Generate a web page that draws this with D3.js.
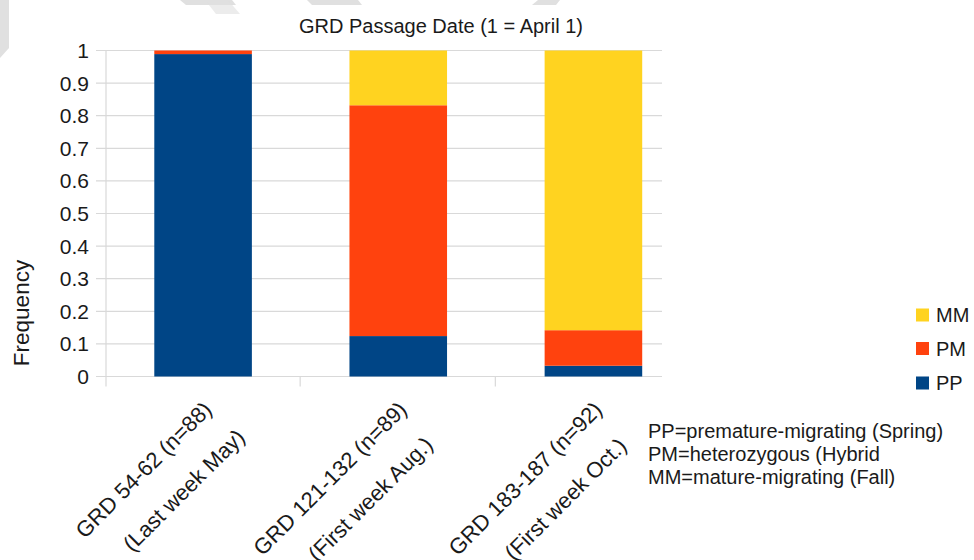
<!DOCTYPE html>
<html>
<head>
<meta charset="utf-8">
<script src="https://cdn.jsdelivr.net/npm/d3@7"></script>
<style>
  html, body { margin: 0; padding: 0; background: #fff; }
  svg { display: block; font-family: "Liberation Sans", Arial, sans-serif; }
</style>
</head>
<body>
<svg id="chart" width="974" height="560"></svg>
<script>
// ---- data ----
const categories = ["GRD 54-62 (n=88)", "GRD 121-132 (n=89)", "GRD 183-187 (n=92)"];
const subLabels = ["(Last week May)", "(First week Aug.)", "(First week Oct.)"];
const seriesNames = ["PP", "PM", "MM"];
const PP = [0.989, 0.124, 0.033];
const PM = [0.011, 0.708, 0.109];
const MM = [0.000, 0.168, 0.858];
const yTicks = [0, 0.1, 0.2, 0.3, 0.4, 0.5, 0.6, 0.7, 0.8, 0.9, 1];
const colors = ["#004586", "#ff420e", "#ffd320"];
const titleText = "GRD Passage Date (1 = April 1)";
const yTitle = "Frequency";
const notes = ["PP=premature-migrating (Spring)", "PM=heterozygous (Hybrid", "MM=mature-migrating (Fall)"];

const svg = d3.select("#chart");

// faint watermark shapes at the top
const wm = svg.append("g").attr("fill", "#e0e0e0");
wm.append("polygon").attr("points", "0,0 0,58 9,48 9,0");
wm.append("polygon").attr("points", "180,0 232,0 236,5 186,5");
wm.append("polygon").attr("points", "307,0 358,0 362,5 312,5");
wm.append("polygon").attr("points", "538,0 560,0 556,5 532,5");
wm.append("polygon").attr("points", "205,0 228,0 240,14 216,14").attr("opacity", 0.6);

// scales
const x = d3.scaleBand().domain(categories).range([105.5, 691]).paddingInner(0.5).paddingOuter(0.25);
const y = d3.scaleLinear().domain([0, 1]).range([376.5, 50.5]);
const xLeft = 106, xRight = 662;

// grid
svg.append("g").selectAll("line").data(yTicks).join("line")
  .attr("x1", 96).attr("x2", xRight)
  .attr("y1", d => y(d)).attr("y2", d => y(d))
  .attr("stroke", "#d9d9d9").attr("stroke-width", 1.2);

// y axis line
svg.append("line").attr("x1", xLeft).attr("x2", xLeft).attr("y1", y(1)).attr("y2", y(0) + 10)
  .attr("stroke", "#d9d9d9").attr("stroke-width", 1.2);
// category boundary ticks
const bounds = categories.slice(1).map(c => x(c) - x.step() * x.paddingInner() / 2 - 0.5);
svg.append("g").selectAll("line").data(bounds).join("line")
  .attr("x1", d => d).attr("x2", d => d).attr("y1", y(0)).attr("y2", y(0) + 10)
  .attr("stroke", "#d9d9d9").attr("stroke-width", 1.2);

// y tick labels
svg.append("g").selectAll("text").data(yTicks).join("text")
  .attr("x", 89).attr("y", d => y(d)).attr("dy", "0.36em")
  .attr("text-anchor", "end").attr("font-size", 21).attr("fill", "#1a1a1a")
  .text(d => d3.format("")(d));

// stacked bars
const table = categories.map((c, i) => ({cat: c, PP: PP[i], PM: PM[i], MM: MM[i]}));
const stack = d3.stack().keys(seriesNames)(table);
svg.append("g").selectAll("g").data(stack).join("g")
  .attr("fill", (d, i) => colors[i])
  .selectAll("rect").data(d => d).join("rect")
  .attr("x", d => x(d.data.cat))
  .attr("width", x.bandwidth())
  .attr("y", d => y(d[1]))
  .attr("height", d => y(d[0]) - y(d[1]));

// title
svg.append("text").attr("x", 441).attr("y", 33).attr("text-anchor", "middle")
  .attr("font-size", 20).attr("fill", "#1a1a1a").text(titleText);

// y title
svg.append("text").attr("transform", "translate(29,313) rotate(-90)")
  .attr("text-anchor", "middle").attr("font-size", 22.5).attr("fill", "#1a1a1a").text(yTitle);

// x labels
categories.forEach((c, i) => {
  const cx = x(c) + x.bandwidth() / 2;
  const g = svg.append("g").attr("transform", `translate(${cx + 10},411) rotate(-45)`);
  const t1 = g.append("text").attr("x", 0).attr("y", 0).attr("text-anchor", "end")
    .attr("font-size", 22).attr("fill", "#1a1a1a").text(c);
  const w1 = t1.node().getComputedTextLength();
  g.append("text").attr("x", -w1 / 2 + 14).attr("y", 43).attr("text-anchor", "middle")
    .attr("font-size", 22).attr("fill", "#1a1a1a").text(subLabels[i]);
});

// legend
const legendY = [383, 348.5, 315];
const lg = svg.append("g");
seriesNames.forEach((s, i) => {
  lg.append("rect").attr("x", 916).attr("y", legendY[i] - 6.5).attr("width", 13).attr("height", 13).attr("fill", colors[i]);
  lg.append("text").attr("x", 936).attr("y", legendY[i]).attr("dy", "0.36em")
    .attr("font-size", 20).attr("fill", "#1a1a1a").text(s);
});

// notes
svg.append("g").selectAll("text").data(notes).join("text")
  .attr("x", 648).attr("y", (d, i) => 438 + i * 23)
  .attr("font-size", 20).attr("fill", "#1a1a1a").text(d => d);
</script>
</body>
</html>
